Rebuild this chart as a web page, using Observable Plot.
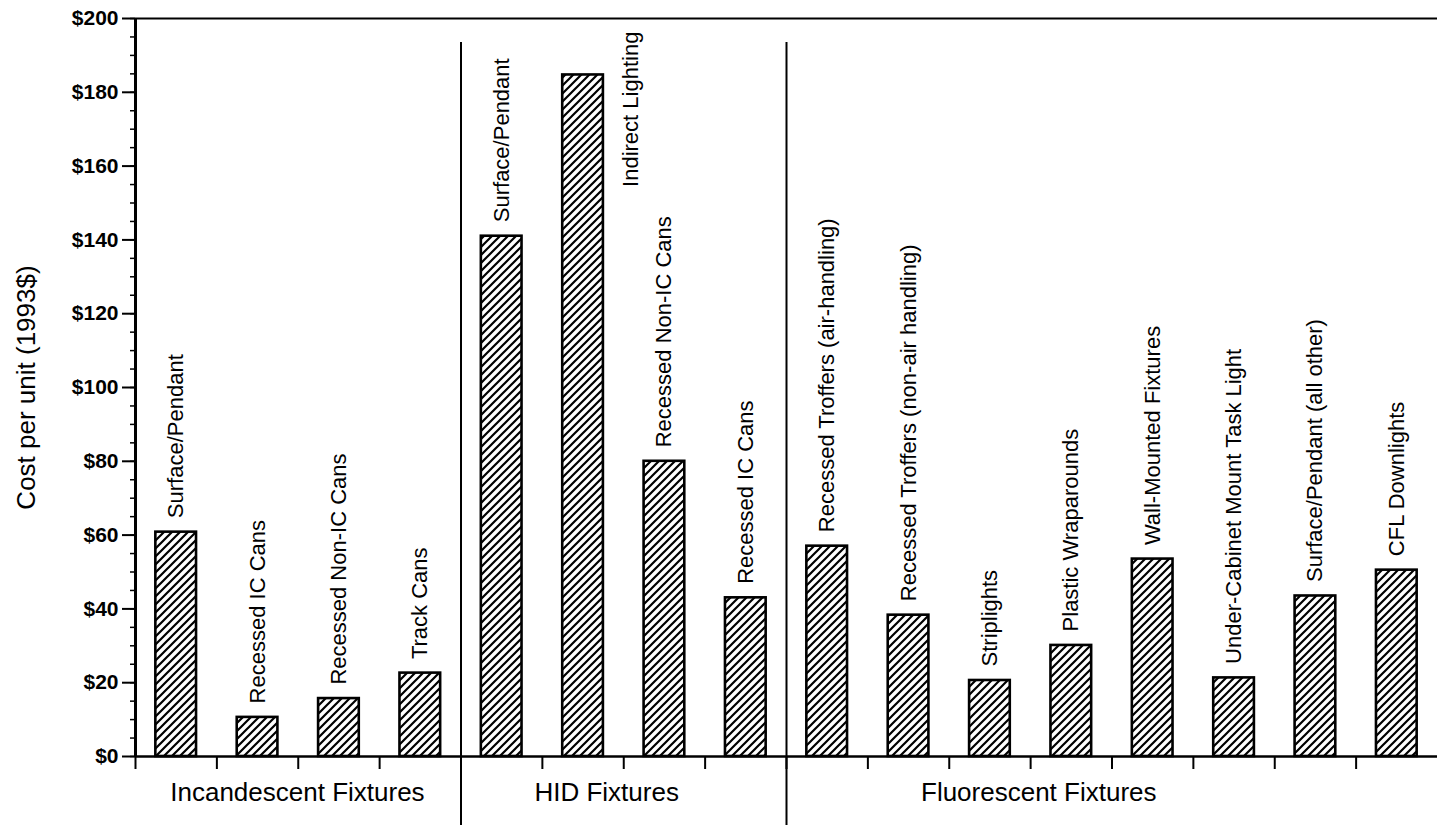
<!DOCTYPE html>
<html><head><meta charset="utf-8">
<script src="https://cdn.jsdelivr.net/npm/d3@7"></script>
<script src="https://cdn.jsdelivr.net/npm/@observablehq/plot@0.6"></script>
<style>html,body{margin:0;padding:0;background:#fff;} #chart svg{display:block;}</style>
</head><body><div id="chart"></div>
<script>
const categories = [
  "Surface/Pendant", "Recessed IC Cans", "Recessed Non-IC Cans", "Track Cans",
  "Surface/Pendant", "Indirect Lighting", "Recessed Non-IC Cans", "Recessed IC Cans",
  "Recessed Troffers (air-handling)", "Recessed Troffers (non-air handling)", "Striplights",
  "Plastic Wraparounds", "Wall-Mounted Fixtures", "Under-Cabinet Mount Task Light",
  "Surface/Pendant (all other)", "CFL Downlights"
];
const groups = [
  "Incandescent Fixtures", "Incandescent Fixtures", "Incandescent Fixtures", "Incandescent Fixtures",
  "HID Fixtures", "HID Fixtures", "HID Fixtures", "HID Fixtures",
  "Fluorescent Fixtures", "Fluorescent Fixtures", "Fluorescent Fixtures", "Fluorescent Fixtures",
  "Fluorescent Fixtures", "Fluorescent Fixtures", "Fluorescent Fixtures", "Fluorescent Fixtures"
];
const costs = [60.8, 10.6, 15.7, 22.6, 141, 184.7, 80, 43, 57, 38.3, 20.6, 30.1, 53.5, 21.3, 43.5, 50.5];
const groupNames = ["Incandescent Fixtures", "HID Fixtures", "Fluorescent Fixtures"];
const yTicks = [0, 20, 40, 60, 80, 100, 120, 140, 160, 180, 200];
const yTickLabels = ["$0", "$20", "$40", "$60", "$80", "$100", "$120", "$140", "$160", "$180", "$200"];
const yMinorTicks = [0,5,10,15,20,25,30,35,40,45,50,55,60,65,70,75,80,85,90,95,100,105,110,115,120,125,130,135,140,145,150,155,160,165,170,175,180,185,190,195,200];
const yLabel = "Cost per unit (1993$)";

const W = 1439, H = 825, mL = 135, mR = 2, mT = 18, mB = 69;
const step = (W - mL - mR) / categories.length;
const font = "'Liberation Sans', Arial, Helvetica, sans-serif";
const groupLabelShift = [1.99, 1.79, 3.10]; // in bands from group start

const data = categories.map((c, i) => ({key: groups[i] + "|" + c, label: c, group: groups[i], cost: costs[i]}));
const keys = data.map(d => d.key);

const groupMarks = groupNames.map((g, j) => {
  const first = groups.indexOf(g);
  return Plot.text([g], {x: () => keys[first], text: d => d, frameAnchor: "bottom", textAnchor: "middle",
    dy: 44, dx: (groupLabelShift[j] - 0.5) * step, fontSize: 26, fill: "black"});
});

const chart = Plot.plot({
  width: W, height: H, marginLeft: mL, marginRight: mR, marginTop: mT, marginBottom: mB,
  style: {fontFamily: font, color: "black", background: "white", overflow: "visible"},
  x: {type: "band", domain: keys, paddingInner: 0.5, paddingOuter: 0.25, round: false},
  y: {domain: [0, 200]},
  marks: [
    Plot.barY(data, {x: "key", y: "cost", fill: "url(#hatch)", stroke: "black", strokeWidth: 2.6}),
    Plot.ruleY([0], {stroke: "black", strokeWidth: 2.5}),
    Plot.ruleY([200], {stroke: "black", strokeWidth: 2}),
    Plot.ruleX([keys[0]], {dx: -step / 2, stroke: "black", strokeWidth: 3}),
    Plot.ruleX([keys[4], keys[8]], {dx: -step / 2, stroke: "black", strokeWidth: 2, insetTop: 24, insetBottom: -69}),
    Plot.axisX({tickSize: 13, tickFormat: () => "", dx: -step / 2, strokeWidth: 2, label: null}),
    Plot.axisY({ticks: yMinorTicks, tickSize: 5, tickFormat: () => "", label: null, strokeWidth: 1.5}),
    Plot.axisY({ticks: yTicks, tickSize: 13, tickPadding: 4, tickFormat: d => yTickLabels[yTicks.indexOf(d)],
      fontSize: 21, fontWeight: "bold", label: null, strokeWidth: 2}),
    Plot.text(data.filter(d => d.label !== "Indirect Lighting"), {x: "key", y: "cost", text: "label",
      rotate: -90, textAnchor: "start", dy: -14, fontSize: 22, fill: "black"}),
    Plot.text(data.filter(d => d.label === "Indirect Lighting"), {x: "key", y: "cost", text: "label",
      rotate: -90, textAnchor: "start", dx: 48, dy: 112, fontSize: 22, fill: "black"}),
    ...groupMarks,
    Plot.text([yLabel], {frameAnchor: "left", textAnchor: "middle", dx: -109, rotate: -90, fontSize: 26, fill: "black"})
  ]
});

const defs = d3.select(chart).insert("defs", ":first-child");
const pat = defs.append("pattern").attr("id", "hatch").attr("patternUnits", "userSpaceOnUse")
  .attr("width", 8).attr("height", 8);
pat.append("rect").attr("width", 8).attr("height", 8).attr("fill", "white");
pat.append("path").attr("d", "M-2,2 L2,-2 M0,8 L8,0 M6,10 L10,6")
  .attr("stroke", "black").attr("stroke-width", 2.2);

document.getElementById("chart").appendChild(chart);
</script>
</body></html>
